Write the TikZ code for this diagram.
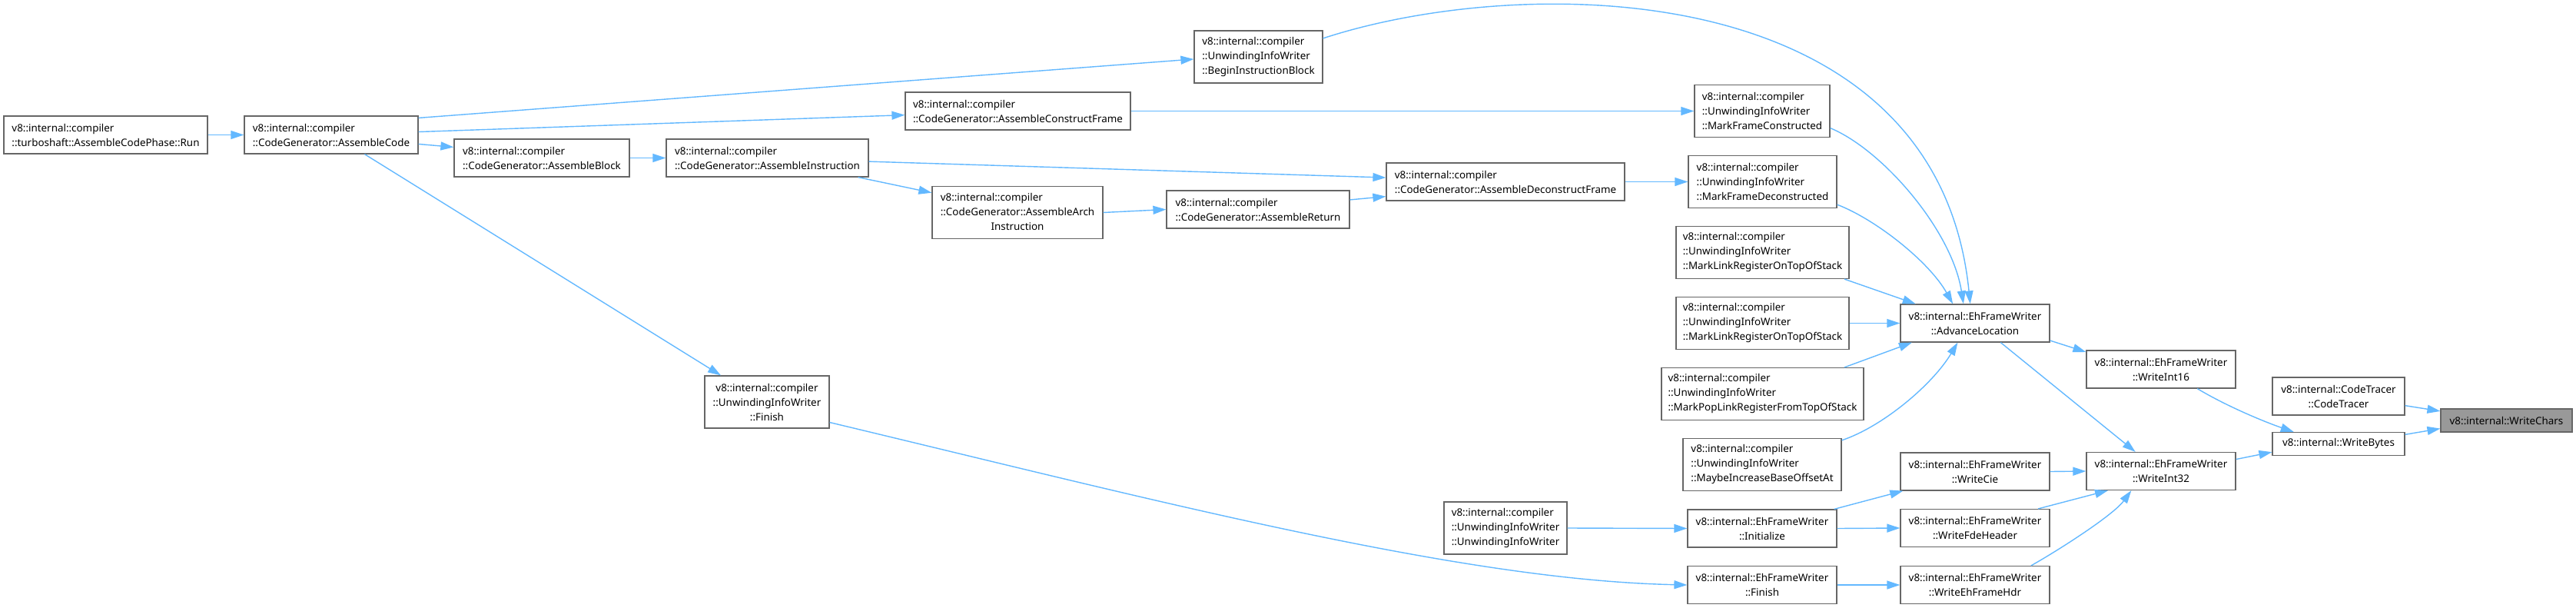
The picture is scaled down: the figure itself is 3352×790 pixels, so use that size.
\documentclass[tikz,border=0pt]{standalone}
\usepackage{fontspec}
\setmainfont{Noto Sans}
\usetikzlibrary{arrows.meta}
\definecolor{boxline}{HTML}{666666}
\definecolor{edgeblue}{HTML}{63B8FF}
\definecolor{hlgray}{HTML}{999999}
\tikzstyle{func}=[draw=boxline, fill=white, line width=1.2pt, inner sep=0pt, font=\fontsize{13.4}{19}\selectfont]
\tikzstyle{funcl}=[func, align=left]
\tikzstyle{funcc}=[func, align=center]
\tikzstyle{funchl}=[func, fill=hlgray]
\tikzstyle{call}=[edgeblue, line width=1.4pt, -{Triangle[length=17pt, width=11pt]}]

\begin{document}
\begin{tikzpicture}[x=1pt, y=-1pt]
			\useasboundingbox (0,0) rectangle (3352,790);

			% CodeGenerator side
			\node[funcl, minimum width=265pt, minimum height=49pt] (run) at (137.5,175.5) {v8::internal::compiler\\::turboshaft::AssembleCodePhase::Run};
			\node[funcl, minimum width=226pt, minimum height=49pt] (ac) at (431,175.5) {v8::internal::compiler\\::CodeGenerator::AssembleCode};
			\node[funcl, minimum width=228pt, minimum height=49pt] (ab) at (705,205.5) {v8::internal::compiler\\::CodeGenerator::AssembleBlock};
			\node[funcl, minimum width=263pt, minimum height=49pt] (ai) at (998.5,205.5) {v8::internal::compiler\\::CodeGenerator::AssembleInstruction};
			\node[funcc, minimum width=162pt, minimum height=68pt] (uwf) at (998,523) {v8::internal::compiler\\::UnwindingInfoWriter\\::Finish};
			\node[funcl, minimum width=293pt, minimum height=49pt] (acf) at (1324.5,144.5) {v8::internal::compiler\\::CodeGenerator::AssembleConstructFrame};
			\node[func, minimum width=222pt, minimum height=68pt] (aai) at (1324,276.5) {\begin{tabular}{@{}l@{}}v8::internal::compiler\\::CodeGenerator::AssembleArch\\\multicolumn{1}{@{}c@{}}{Instruction}\end{tabular}};
			\node[funcl, minimum width=167pt, minimum height=68pt] (bib) at (1637.5,74) {v8::internal::compiler\\::UnwindingInfoWriter\\::BeginInstructionBlock};
			\node[funcl, minimum width=238pt, minimum height=49pt] (ar) at (1637,272.5) {v8::internal::compiler\\::CodeGenerator::AssembleReturn};
			\node[funcl, minimum width=310pt, minimum height=49pt] (adf) at (1959,236.5) {v8::internal::compiler\\::CodeGenerator::AssembleDeconstructFrame};
			\node[funcl, minimum width=160pt, minimum height=68pt] (uwc) at (1959,687) {v8::internal::compiler\\::UnwindingInfoWriter\\::UnwindingInfoWriter};

			% UnwindingInfoWriter column
			\node[funcl, minimum width=176pt, minimum height=68pt] (mfc) at (2293,144.5) {v8::internal::compiler\\::UnwindingInfoWriter\\::MarkFrameConstructed};
			\node[funcl, minimum width=193pt, minimum height=68pt] (mfd) at (2293.5,236.5) {v8::internal::compiler\\::UnwindingInfoWriter\\::MarkFrameDeconstructed};
			\node[funcl, minimum width=225pt, minimum height=68pt] (mlra) at (2293.5,328.5) {v8::internal::compiler\\::UnwindingInfoWriter\\::MarkLinkRegisterOnTopOfStack};
			\node[funcl, minimum width=225pt, minimum height=68pt] (mlrb) at (2293.5,420.5) {v8::internal::compiler\\::UnwindingInfoWriter\\::MarkLinkRegisterOnTopOfStack};
			\node[funcl, minimum width=263pt, minimum height=68pt] (mpl) at (2293.5,512.5) {v8::internal::compiler\\::UnwindingInfoWriter\\::MarkPopLinkRegisterFromTopOfStack};
			\node[funcl, minimum width=206pt, minimum height=68pt] (mib) at (2293,604.5) {v8::internal::compiler\\::UnwindingInfoWriter\\::MaybeIncreaseBaseOffsetAt};
			\node[funcc, minimum width=194pt, minimum height=49pt] (efi) at (2293,687.5) {v8::internal::EhFrameWriter\\::Initialize};
			\node[funcc, minimum width=194pt, minimum height=49pt] (efn) at (2293,761) {v8::internal::EhFrameWriter\\::Finish};

			% EhFrameWriter and writers
			\node[funcc, minimum width=194pt, minimum height=49pt] (adv) at (2570,420.5) {v8::internal::EhFrameWriter\\::AdvanceLocation};
			\node[funcc, minimum width=194pt, minimum height=49pt] (cie) at (2570,613.5) {v8::internal::EhFrameWriter\\::WriteCie};
			\node[funcc, minimum width=194pt, minimum height=49pt] (fde) at (2570,687) {v8::internal::EhFrameWriter\\::WriteFdeHeader};
			\node[funcc, minimum width=194pt, minimum height=49pt] (hdr) at (2570,761) {v8::internal::EhFrameWriter\\::WriteEhFrameHdr};
			\node[funcc, minimum width=194pt, minimum height=49pt] (wia) at (2812,480.5) {v8::internal::EhFrameWriter\\::WriteInt16};
			\node[funcc, minimum width=194pt, minimum height=49pt] (wib) at (2812,613) {v8::internal::EhFrameWriter\\::WriteInt32};
			\node[funcc, minimum width=172pt, minimum height=49pt] (ct) at (3043,515.5) {v8::internal::CodeTracer\\::CodeTracer};
			\node[func, minimum width=172pt, minimum height=30pt] (wb) at (3043,577.5) {v8::internal::WriteBytes};
			\node[funchl, minimum width=171pt, minimum height=30pt] (wc) at (3261.5,547) {v8::internal::WriteChars};

			% straight calls
			\foreach \a/\b in {run.east/ac.west, ac.11/bib.182, ac.2/acf.182, ac.-6/ab.173, ac.-30/uwf.150,
				ab.east/ai.west, ai.-2/adf.178, ai.-12/aai.167, aai.east/ar.west, ar.6/adf.187,
				acf.east/mfc.west, adf.east/mfd.west, mlra.-18/adv.162, mlrb.east/adv.west, mpl.18/adv.197,
				adv.-13/wia.167, adv.-37/wib.143, wib.9/wb.187, wb.8/wc.187, ct.-8/wc.172,
				cie.east/wib.west, fde.17/wib.200, efi.15/cie.195, efi.east/fde.west, efn.east/hdr.west,
				uwc.east/efi.west}{
				\draw[call] (\a) -- (\b);
			}

			% bent calls
			\draw[call] (bib.16) .. controls (1980,-35) and (2520,-35) .. (adv.104);
			\draw[call] (mfc.-14) .. controls (2450,195) and (2540,300) .. (adv.121);
			\draw[call] (mfd.-17) .. controls (2440,285) and (2510,340) .. (adv.139);
			\draw[call] (mib.17) .. controls (2450,555) and (2515,500) .. (adv.228);
			\draw[call] (wia.-28) .. controls (2900,530) and (2950,550) .. (wb.165);
			\draw[call] (hdr.19) .. controls (2680,715) and (2750,670) .. (wib.213);
			\draw[call] (uwf.-18) .. controls (1500,650) and (1900,755) .. (efn.west);
\end{tikzpicture}
\end{document}
